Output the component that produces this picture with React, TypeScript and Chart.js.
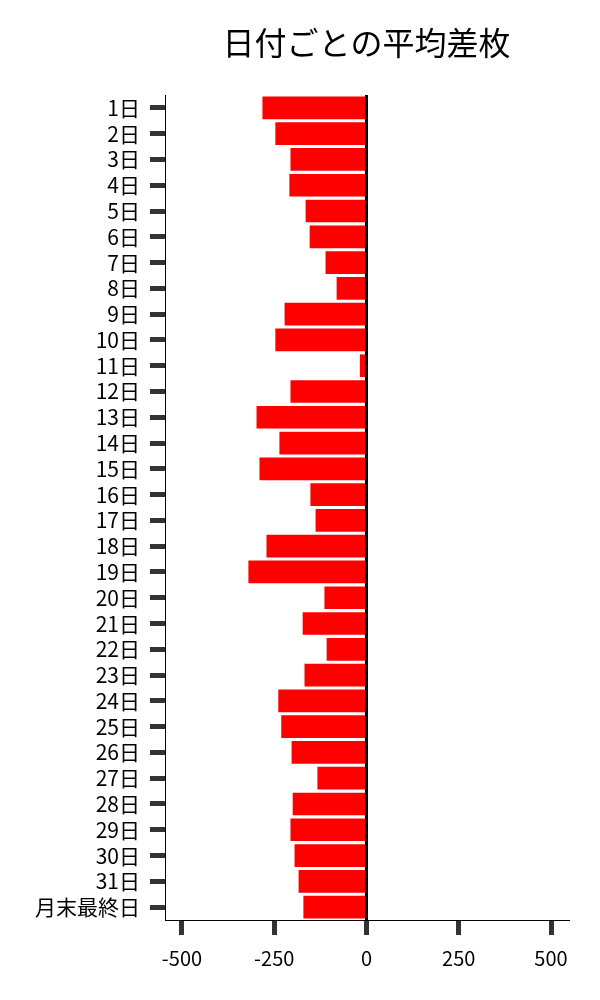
import { useEffect, useRef } from 'react';
import { Chart, registerables, type ChartConfiguration, type Plugin } from 'chart.js';

Chart.register(...registerables);

const TITLE = '日付ごとの平均差枚';
const FONT = '"Noto Sans CJK JP", "Noto Sans", sans-serif';

const days = [
  '1日', '2日', '3日', '4日', '5日', '6日', '7日', '8日', '9日', '10日',
  '11日', '12日', '13日', '14日', '15日', '16日', '17日', '18日', '19日', '20日',
  '21日', '22日', '23日', '24日', '25日', '26日', '27日', '28日', '29日', '30日',
  '31日', '月末最終日',
];
const avgDiff = [
  -282, -247, -206, -209, -165, -154, -111, -81, -222, -247,
  -18, -206, -298, -236, -290, -152, -138, -271, -320, -114,
  -173, -108, -168, -239, -231, -203, -133, -200, -206, -195,
  -184, -171,
];
const xTicks = [-500, -250, 0, 250, 500];

// title centred over the plot area, not the whole canvas
const titlePlugin: Plugin<'bar'> = {
  id: 'areaTitle',
  afterDraw(chart) {
    const { ctx, chartArea } = chart;
    ctx.save();
    ctx.font = `32px ${FONT}`;
    ctx.fillStyle = '#000';
    ctx.textAlign = 'center';
    ctx.textBaseline = 'middle';
    ctx.fillText(TITLE, (chartArea.left + chartArea.right) / 2, 43);
    ctx.restore();
  },
};

export default function App() {
  const canvasRef = useRef<HTMLCanvasElement>(null);
  const chartRef = useRef<Chart | null>(null);

  useEffect(() => {
    document.body.style.margin = '0';
    if (!canvasRef.current) return;
    chartRef.current?.destroy();

    const config: ChartConfiguration<'bar'> = {
      type: 'bar',
      data: {
        labels: days,
        datasets: [{
          data: avgDiff,
          backgroundColor: '#ff0000',
          borderWidth: 0,
          barPercentage: 0.88,
          categoryPercentage: 1,
        }],
      },
      options: {
        indexAxis: 'y',
        animation: false,
        responsive: true,
        maintainAspectRatio: false,
        layout: { padding: { top: 95, right: 32, bottom: 19, left: 0 } },
        plugins: { legend: { display: false }, title: { display: false }, tooltip: { enabled: false } },
        scales: {
          x: {
            type: 'linear',
            min: -546,
            max: 546,
            afterBuildTicks: (axis) => { axis.ticks = xTicks.map(v => ({ value: v })); },
            ticks: { color: '#000', padding: 11, font: { family: FONT, size: 20 } },
            grid: {
              color: (c) => (c.tick && c.tick.value === 0 ? '#000' : 'rgba(0,0,0,0)'),
              lineWidth: 3,
              tickColor: '#333',
              tickWidth: 5,
              tickLength: 15,
            },
            border: { color: '#000', width: 1 },
          },
          y: {
            type: 'category',
            offset: true,
            afterFit: (axis) => { axis.width = 165; },
            ticks: { color: '#000', padding: 10, autoSkip: false, font: { family: FONT, size: 21 } },
            grid: {
              offset: false,
              drawOnChartArea: false,
              tickColor: '#333',
              tickWidth: 5,
              tickLength: 15,
            },
            border: { color: '#000', width: 1 },
          },
        },
      },
      plugins: [titlePlugin],
    };
    chartRef.current = new Chart(canvasRef.current, config);

    return () => { chartRef.current?.destroy(); chartRef.current = null; };
  }, []);

  return (
    <div style={{ width: 600, height: 1000, position: 'relative', background: '#fff' }}>
      <canvas ref={canvasRef} />
    </div>
  );
}
